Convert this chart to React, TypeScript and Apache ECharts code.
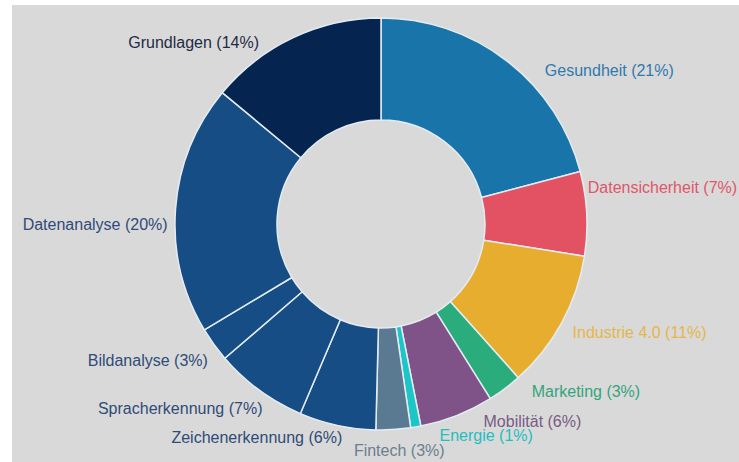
import React, { useEffect, useRef } from "react";
import * as echarts from "echarts";

const categories = [
  "Gesundheit",
  "Datensicherheit",
  "Industrie 4.0",
  "Marketing",
  "Mobilität",
  "Energie",
  "Fintech",
  "Zeichenerkennung",
  "Spracherkennung",
  "Bildanalyse",
  "Datenanalyse",
  "Grundlagen",
];
const values = [20.9, 6.6, 10.9, 2.7, 5.8, 0.8, 2.7, 6.0, 7.3, 2.7, 19.6, 14.0];
const sliceColors = [
  "#1874a9",
  "#e25262",
  "#e6ad2e",
  "#2aac7d",
  "#7f5388",
  "#1cc6c8",
  "#5a7a92",
  "#174d85",
  "#174d85",
  "#174d85",
  "#174d85",
  "#05244f",
];
const labelColors = [
  "#2f79ad",
  "#e0566a",
  "#e5b64a",
  "#33a57b",
  "#7a5a86",
  "#22bfc0",
  "#6b7f90",
  "#2f4b78",
  "#2f4b78",
  "#2f4b78",
  "#2f4b78",
  "#1f2b45",
];
// small per-label nudges (style only) applied after ECharts' own outside-label layout
const labelNudges: [number, number][] = [
  [23, 18],
  [-18, -26],
  [-7, 5],
  [12, -5],
  [14, -3],
  [13, -1],
  [-49, 11],
  [16, 2],
  [18, 10],
  [11, 10],
  [11, 17],
  [-21, 14],
];

export default function App() {
  const ref = useRef<HTMLDivElement>(null);
  useEffect(() => {
    if (!ref.current) return;
    const chart = echarts.init(ref.current, undefined, { renderer: "svg" });
    const total = values.reduce((a, b) => a + b, 0);
    chart.setOption({
      animation: false,
      backgroundColor: "#d9d9d9",
      series: [
        {
          type: "pie",
          center: [369, 219],
          radius: [104, 206],
          startAngle: 90,
          clockwise: true,
          avoidLabelOverlap: false,
          itemStyle: { borderColor: "#e4ecf3", borderWidth: 1.5 },
          label: {
            show: true,
            position: "outside",
            fontFamily: "Liberation Sans, Arial, sans-serif",
            fontSize: 16,
            lineHeight: 13,
            formatter: (p: any) => `${p.name} (${Math.round((p.value / total) * 100)}%)`,
            overflow: "none",
          },
          labelLine: { show: false, length: 10, length2: 4 },
          labelLayout: { hideOverlap: false },
          data: categories.map((name, i) => ({
            name,
            value: values[i],
            itemStyle: { color: sliceColors[i] },
            label: { color: labelColors[i], offset: labelNudges[i] },
          })),
        },
      ],
    });
    return () => chart.dispose();
  }, []);
  return (
    <div style={{ position: "fixed", left: 0, top: 0, width: 739, height: 462, background: "#fff" }}>
      <div ref={ref} style={{ position: "absolute", left: 12, top: 5, width: 727, height: 457 }} />
    </div>
  );
}
